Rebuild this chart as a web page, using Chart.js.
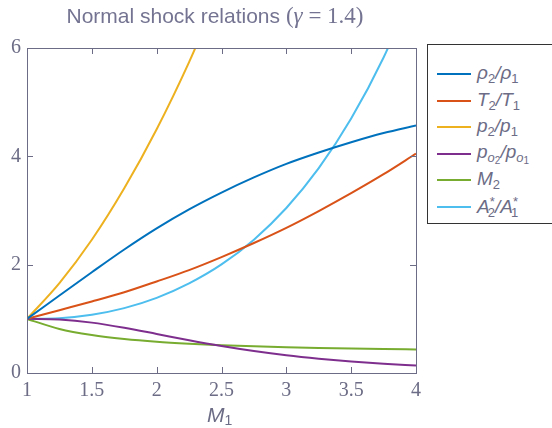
<!DOCTYPE html>
<html>
<head>
<meta charset="utf-8">
<script src="https://cdn.jsdelivr.net/npm/chart.js@4.4.1/dist/chart.umd.min.js"></script>
<style>
  html, body { margin: 0; padding: 0; background: #fff; }
  #wrap { position: relative; width: 552px; height: 428px; overflow: hidden; }
  #chart { position: absolute; left: 0; top: 0; }
  .title {
    position: absolute; left: 0; width: 430px; top: 3px; text-align: center;
    font-family: "Liberation Sans", Arial, sans-serif; font-size: 21px; color: #747492;
  }
  .title .math { font-family: "Liberation Serif", serif; font-size: 23px; }
  .xlabel {
    position: absolute; left: 207px; top: 403px;
    font-family: "Liberation Sans", Arial, sans-serif; font-style: italic; font-size: 21px; color: #6c6c86;
  }
  .xlabel sub { font-style: normal; font-size: 14px; vertical-align: -3px; }
  .legend {
    position: absolute; left: 427px; top: 44px; width: 130px; height: 180px;
    border: 1px solid #333; box-sizing: border-box; background: #fff;
    font-family: "Liberation Sans", Arial, sans-serif; color: #6c6c86;
  }
  .legend .row { position: absolute; left: 9px; height: 24px; display: flex; align-items: center; }
  .legend .swatch { width: 34px; height: 2px; margin-right: 6px; }
  .legend .lab { font-style: italic; font-size: 19px; white-space: nowrap; }
  .legend sub { font-size: 13px; font-style: normal; vertical-align: -4px; }
  .legend sub sub { font-size: 10px; vertical-align: -2px; }
  .legend sup { font-size: 13px; font-style: normal; vertical-align: 7px; }
</style>
</head>
<body>
<div id="wrap">
  <canvas id="chart" width="552" height="428"></canvas>
  <div class="title">Normal shock relations <span class="math">(<i>γ</i> = 1.4)</span></div>
  <div class="xlabel">M<sub>1</sub></div>
  <div class="legend" id="legend"></div>
</div>
<script>
// Upstream Mach number samples
const machNumbers = [1, 1.25, 1.5, 1.75, 2, 2.25, 2.5, 2.75, 3, 3.25, 3.5, 3.75, 4];

// Ratios across the shock
const densityRatio = [1, 1.43, 1.86, 2.28, 2.67, 3.02, 3.33, 3.61, 3.86, 4.07, 4.26, 4.43, 4.57];
const temperatureRatio = [1, 1.16, 1.32, 1.49, 1.69, 1.90, 2.14, 2.40, 2.68, 2.99, 3.32, 3.67, 4.05];
const pressureRatio = [1, 1.66, 2.46, 3.41, 4.50, 5.74, 7.13];
const stagPressureRatio = [1, 0.987, 0.930, 0.835, 0.721, 0.605, 0.499, 0.406, 0.328, 0.265, 0.213, 0.172, 0.139];
const downstreamMach = [1, 0.813, 0.701, 0.628, 0.577, 0.541, 0.513, 0.492, 0.475, 0.462, 0.451, 0.442, 0.435];
const throatAreaRatio = [1, 1.013, 1.076, 1.198, 1.387, 1.654, 2.004, 2.462, 3.046, 3.781, 4.697, 5.824, 7.205];

const xTicks = [1, 1.5, 2, 2.5, 3, 3.5, 4];
const yTicks = [0, 2, 4, 6];

const seriesNames = [
    '<i>ρ</i><sub>2</sub>/<i>ρ</i><sub>1</sub>',
    '<i>T</i><sub>2</sub>/<i>T</i><sub>1</sub>',
    '<i>p</i><sub>2</sub>/<i>p</i><sub>1</sub>',
    '<i>p</i><sub><i>o</i><sub>2</sub></sub>/<i>p</i><sub><i>o</i><sub>1</sub></sub>',
    '<i>M</i><sub>2</sub>',
    '<i>A</i><sup>*</sup><sub style="margin-left:-7px">2</sub>/<i>A</i><sup>*</sup><sub style="margin-left:-7px">1</sub>'
];
const seriesColors = ['#0072BD', '#D95319', '#EDB120', '#7E2F8E', '#77AC30', '#4DBEEE'];
const seriesData = [densityRatio, temperatureRatio, pressureRatio, stagPressureRatio, downstreamMach, throatAreaRatio];

const axisColor = '#6c6c86';

function toPoints(ys) {
    return ys.map((y, i) => ({ x: machNumbers[i], y: y }));
}

// Frame with inward tick marks on all four sides
const frameTicks = {
    id: 'frameTicks',
    afterDatasetsDraw(chart) {
        const { ctx, chartArea: a, scales } = chart;
        const len = 6;
        ctx.save();
        ctx.strokeStyle = axisColor;
        ctx.lineWidth = 1;
        ctx.strokeRect(a.left + 0.5, a.top + 0.5, a.right - a.left, a.bottom - a.top);
        ctx.beginPath();
        xTicks.forEach(v => {
            const px = Math.round(scales.x.getPixelForValue(v)) + 0.5;
            ctx.moveTo(px, a.bottom); ctx.lineTo(px, a.bottom - len);
            ctx.moveTo(px, a.top); ctx.lineTo(px, a.top + len);
        });
        yTicks.forEach(v => {
            const py = Math.round(scales.y.getPixelForValue(v)) + 0.5;
            ctx.moveTo(a.left, py); ctx.lineTo(a.left + len, py);
            ctx.moveTo(a.right, py); ctx.lineTo(a.right - len, py);
        });
        ctx.stroke();
        ctx.restore();
    }
};

new Chart(document.getElementById('chart'), {
    type: 'line',
    data: {
        datasets: seriesData.map((d, i) => ({
            data: toPoints(d),
            borderColor: seriesColors[i],
            borderWidth: 2,
            pointRadius: 0,
            fill: false,
            cubicInterpolationMode: 'monotone'
        }))
    },
    options: {
        responsive: false,
        animation: false,
        layout: { padding: { top: 48, right: 136, left: 0, bottom: 0 } },
        plugins: { legend: { display: false }, tooltip: { enabled: false }, title: { display: false } },
        scales: {
            x: {
                type: 'linear', min: 1, max: 4,
                afterBuildTicks: s => { s.ticks = xTicks.map(v => ({ value: v })); },
                afterFit: s => { s.height = 55; },
                grid: { display: false, drawTicks: false },
                border: { display: false },
                ticks: { color: axisColor, padding: 6, maxRotation: 0,
                    callback: v => String(v),
                    font: { family: 'Liberation Serif', size: 20 } }
            },
            y: {
                min: 0, max: 6,
                afterBuildTicks: s => { s.ticks = yTicks.map(v => ({ value: v })); },
                afterFit: s => { s.width = 27; },
                grid: { display: false, drawTicks: false },
                border: { display: false },
                ticks: { color: axisColor, padding: 6,
                    font: { family: 'Liberation Serif', size: 20 } }
            }
        }
    },
    plugins: [frameTicks]
});

// Legend box
const legendEl = document.getElementById('legend');
seriesNames.forEach((name, i) => {
    const row = document.createElement('div');
    row.className = 'row';
    row.style.top = (17 + i * 26.6) + 'px';
    row.innerHTML = '<span class="swatch" style="background:' + seriesColors[i] + '"></span><span class="lab">' + name + '</span>';
    legendEl.appendChild(row);
});
</script>
</body>
</html>
